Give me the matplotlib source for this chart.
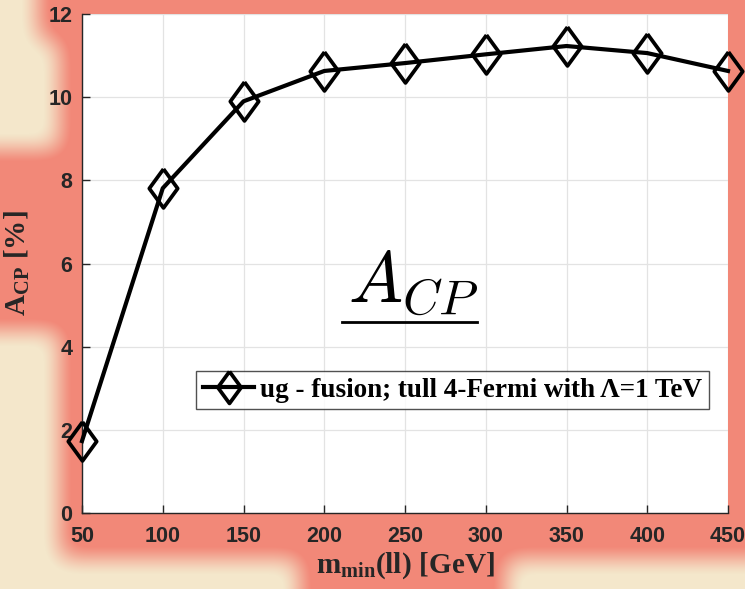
import numpy as np
import matplotlib
matplotlib.use("Agg")
import matplotlib.pyplot as plt

# ---------------- data ----------------
m_min = [50, 100, 150, 200, 250, 300, 350, 400, 450]
acp = [1.73, 7.81, 9.90, 10.63, 10.82, 11.03, 11.23, 11.06, 10.63]
xticks = [50, 100, 150, 200, 250, 300, 350, 400, 450]
yticks = [0, 2, 4, 6, 8, 10, 12]
legend_label = "ug - fusion; tull 4-Fermi with \u039b=1 TeV"

W, H = 745, 589
fig = plt.figure(figsize=(W / 100, H / 100), dpi=100)

# ---------------- decorative background ----------------
def box_blur(a, r):
    for axis in (0, 1):
        pad = [(0, 0), (0, 0)]
        pad[axis] = (r + 1, r)
        p = np.pad(a, pad, mode="edge")
        c = np.cumsum(p, axis=axis)
        if axis == 0:
            a = (c[2 * r + 1:, :] - c[:-2 * r - 1, :]) / (2 * r + 1)
        else:
            a = (c[:, 2 * r + 1:] - c[:, :-2 * r - 1]) / (2 * r + 1)
    return a

mask = np.zeros((H, W))
mask[0:558, 60:W] = 1
mask[0:40, 38:W] = 1
mask[530:H, 300:505] = 1
mask[150:330, 0:70] = 1
mask[180:320, 12:70] = 1
mask[200:260, 0:70] = 1
for _ in range(3):
    mask = box_blur(mask, 11)
mask = np.clip((mask - 0.08) / 0.75, 0, 1)
beige = np.array([244, 231, 203]) / 255
salmon = np.array([242, 136, 120]) / 255
img = beige[None, None, :] * (1 - mask[..., None]) + salmon[None, None, :] * mask[..., None]
ax_bg = fig.add_axes([0, 0, 1, 1], zorder=-5)
ax_bg.imshow(img, aspect="auto", extent=(0, 1, 0, 1), origin="upper")
ax_bg.axis("off")

# ---------------- fonts ----------------
tick_family = "Liberation Sans"
serif = "Liberation Serif"
plt.rcParams["mathtext.fontset"] = "custom"
plt.rcParams["mathtext.rm"] = serif + ":bold"
plt.rcParams["mathtext.it"] = serif + ":bold"
plt.rcParams["mathtext.bf"] = serif + ":bold"

# ---------------- main axes ----------------
x0, x1, ytop, ybot = 82, 728, 14, 513
ax = fig.add_axes([x0 / W, (H - ybot) / H, (x1 - x0) / W, (ybot - ytop) / H])
ax.set_facecolor("white")
ax.set_xlim(50, 450)
ax.set_ylim(0, 12)
ax.set_xticks(xticks)
ax.set_yticks(yticks)
ax.grid(True, color="#e3e3e3", linewidth=0.9)
ax.set_axisbelow(True)
for s in ("top", "right"):
    ax.spines[s].set_visible(False)
for s in ("left", "bottom"):
    ax.spines[s].set_color("#262626")
    ax.spines[s].set_linewidth(1.0)
ax.tick_params(direction="in", length=6, width=1.0, colors="#262626",
               labelsize=15.5)
ax.tick_params(axis="x", pad=9)
ax.tick_params(axis="y", pad=7)
for lab in ax.get_xticklabels() + ax.get_yticklabels():
    lab.set_fontfamily(tick_family)
    lab.set_fontweight("bold")

diamond = [(0, 1), (0.73, 0), (0, -1), (-0.73, 0), (0, 1)]
ax.plot(m_min, acp, color="black", linewidth=3.0, marker=diamond,
        markersize=28, markerfacecolor="none", markeredgecolor="black",
        markeredgewidth=2.7, clip_on=False, label=legend_label, zorder=3)

ax.set_xlabel(r"$\mathrm{m}_{\mathrm{min}}\mathrm{(ll)\ [GeV]}$", fontsize=21,
              color="#262626", labelpad=3)
ax.set_ylabel(r"$\mathrm{A}_{\mathrm{CP}}\mathrm{\ [\%]}$", fontsize=21,
              color="#262626", labelpad=12)

leg = ax.legend(loc="upper right", bbox_to_anchor=(0.97, 0.285),
                prop={"family": serif, "weight": "bold", "size": 19.5},
                frameon=True, fancybox=False, edgecolor="#262626",
                borderpad=0.25, handlelength=1.9, handletextpad=0.2,
                borderaxespad=0, markerscale=0.82)
leg.get_frame().set_linewidth(1.0)

ax.text(0.512, 0.461, r"$A_{CP}$", transform=ax.transAxes, fontsize=52,
        math_fontfamily="cm", ha="center", va="center", color="black")
ax.plot([0.403, 0.612], [0.383, 0.383], transform=ax.transAxes,
        color="black", linewidth=2.0, clip_on=False)

fig.savefig("out.png", dpi=100)
